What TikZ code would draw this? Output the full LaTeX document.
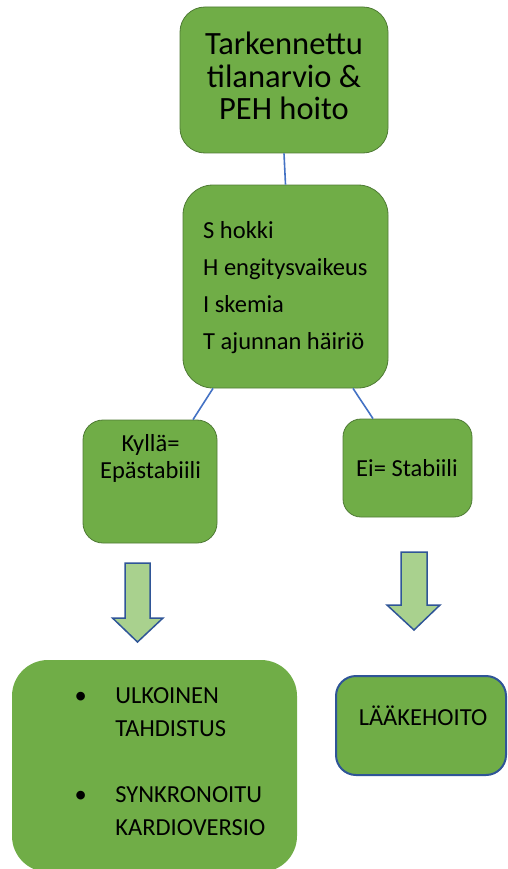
\documentclass[tikz,border=0pt]{standalone}
\usepackage{fontspec}
\setmainfont{Carlito}
\definecolor{boxgreen}{HTML}{70AD47}
\definecolor{boxedge}{HTML}{4E7A34}
\definecolor{linkblue}{HTML}{4472C4}
\definecolor{arrowfill}{HTML}{A9D18E}
\definecolor{arrowedge}{HTML}{2F5597}
\tikzset{
  gbox/.style={draw=boxedge, line width=0.8pt, fill=boxgreen, inner sep=0pt},
  link/.style={draw=linkblue, line width=1.6pt},
  blockarrow/.style={fill=arrowfill, draw=arrowedge, line width=1.5pt, line join=miter},
  txt/.style={inner sep=0pt, text=black}
}
\begin{document}
\begin{tikzpicture}[x=1pt,y=-1pt]
\useasboundingbox (0,0) rectangle (507,869);
% boxes
\node[gbox, rounded corners=25pt, minimum width=208pt, minimum height=146pt] (t) at (284,80) {};
\node[gbox, rounded corners=30pt, minimum width=205pt, minimum height=203pt] (s) at (285.5,286.5) {};
\node[gbox, rounded corners=20pt, minimum width=134pt, minimum height=123pt] (k) at (150,481.5) {};
\node[gbox, rounded corners=18pt, minimum width=129pt, minimum height=98pt] (e) at (407.5,468) {};
\node[fill=boxgreen, inner sep=0pt, rounded corners=36pt, minimum width=285pt, minimum height=212pt] (b) at (154.5,766) {};
\node[fill=boxgreen, draw=arrowedge, line width=2pt, inner sep=0pt, rounded corners=20pt, minimum width=170pt, minimum height=99pt] (l) at (421,725.5) {};
% connectors
\draw[link] (t.south) -- (s.north);
\draw[link] ([xshift=-72.5pt]s.south) -- ([xshift=43pt]k.north);
\draw[link] ([xshift=67.5pt]s.south) -- ([xshift=-34.5pt]e.north);
% block arrows
\coordinate (a1) at (137.5,563);
\coordinate (a2) at (414,552);
\draw[blockarrow] (a1) ++(-12.5,0) -- ++(25,0) -- ++(0,55) -- ++(13,0) -- (137.5,642) -- (112.5,618) -- ++(12.5,0) -- cycle;
\draw[blockarrow] (a2) ++(-13,0) -- ++(26,0) -- ++(0,53) -- ++(13,0) -- (414,630) -- (387,605) -- ++(14,0) -- cycle;
% texts
\node[txt, anchor=base] (tt) at (284,55) {\fontsize{32.5}{32}\selectfont\begin{tabular}[t]{@{}c@{}}Tarkennettu\\ tilanarvio \&\\ PEH hoito\end{tabular}};
\node[txt, anchor=base west] (st) at (203,238) {\fontsize{24.5}{37.3}\selectfont\begin{tabular}[t]{@{}l@{}}S hokki\\ H engitysvaikeus\\ I skemia\\ T ajunnan häiriö\end{tabular}};
\node[txt, anchor=base] (kt) at (150.5,451) {\fontsize{24.5}{27.5}\selectfont\begin{tabular}[t]{@{}c@{}}Kyllä=\\ Epästabiili\end{tabular}};
\node[txt, anchor=base] (et) at (407,476) {\fontsize{24.5}{27.5}\selectfont Ei= Stabiili};
\node[txt, anchor=base west] (bt) at (74.5,703) {\fontsize{24.5}{33}\selectfont\begin{tabular}[t]{@{}l@{\hskip 28.5pt}l@{}}\textbullet & ULKOINEN\\ & TAHDISTUS\\ & \\ \textbullet & SYNKRONOITU\\ & KARDIOVERSIO\end{tabular}};
\node[txt, anchor=base] (lt) at (423,725) {\fontsize{24.5}{30}\selectfont LÄÄKEHOITO};
\end{tikzpicture}
\end{document}
